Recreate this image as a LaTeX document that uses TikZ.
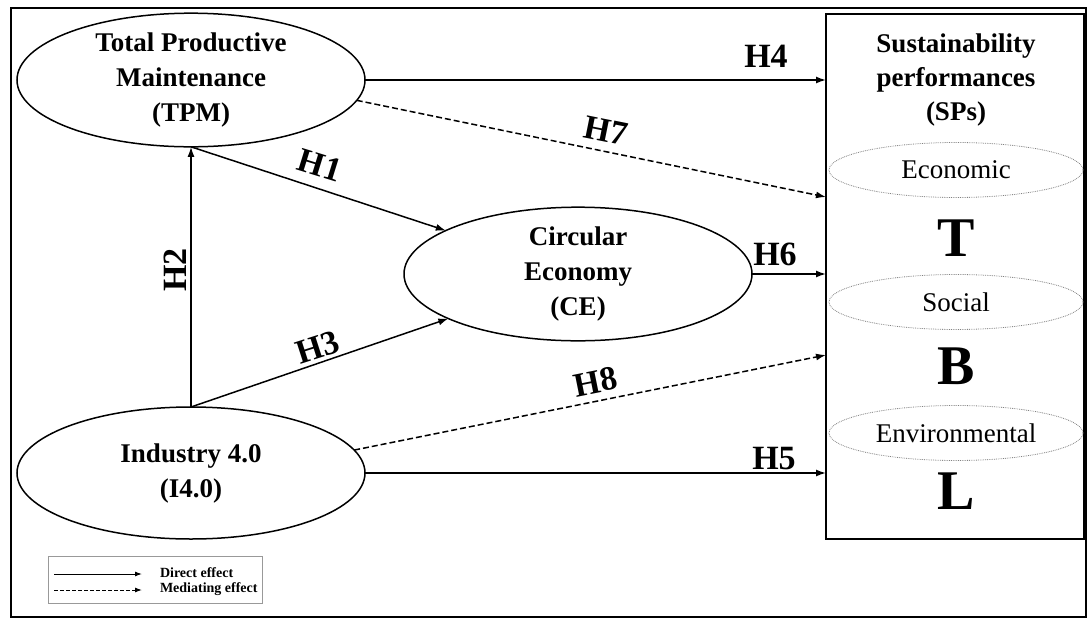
\documentclass[tikz,border=0pt]{standalone}
\usepackage{fontspec}
\setmainfont{Liberation Serif}
\usetikzlibrary{arrows.meta,shapes.geometric}
\begin{document}
\begin{tikzpicture}[x=1pt,y=-1pt,
  every node/.style={inner sep=0pt,outer sep=0pt},
  construct/.style={ellipse,draw,line width=1.5pt,minimum width=348pt,minimum height=132pt,
    align=center,font=\fontsize{27}{35}\selectfont\bfseries},
  dimension/.style={ellipse,draw=gray,densely dotted,line width=0.8pt,minimum width=254pt,
    minimum height=55pt,font=\fontsize{27}{32}\selectfont},
  bigletter/.style={font=\fontsize{56}{60}\selectfont\bfseries},
  hyp/.style={font=\fontsize{34}{36}\selectfont\bfseries},
  direct/.style={line width=1.5pt,-{Latex[length=10pt,width=7pt]}},
  mediate/.style={direct,dash pattern=on 6pt off 3pt},
  legdirect/.style={line width=1pt,-{Latex[length=7pt,width=5pt]}},
  legmediate/.style={legdirect,dash pattern=on 4pt off 2pt},
  legtext/.style={anchor=west,font=\fontsize{14}{14}\selectfont\bfseries}]
\useasboundingbox (0,0) rectangle (1088,619);
\draw[line width=2pt] (11,8) rectangle (1086,617);

% constructs
\node[construct] (tpm) at (191,80) {Total Productive\\Maintenance\\(TPM)};
\node[construct] (ce) at (578,274) {Circular\\Economy\\(CE)};
\node[construct] (i40) at (191,473) {Industry 4.0\\(I4.0)};

% sustainability box
\node[draw,line width=2pt,minimum width=258pt,minimum height=525pt] (sp) at (955,276.5) {};
\node[align=center,font=\fontsize{27}{34}\selectfont\bfseries] (sptitle) at (956,80) {Sustainability\\performances\\(SPs)};
\node[dimension] (eco) at (956,170) {Economic};
\node[bigletter] (t) at (956,238) {T};
\node[dimension] (soc) at (956,302) {Social};
\node[bigletter] (b) at (956,366) {B};
\node[dimension] (env) at (956,433) {Environmental};
\node[bigletter] (l) at (956,491) {L};

% free ends on the box
\coordinate (h7e) at (826,197);
\coordinate (h8e) at (826,355);

% connectors
\draw[direct] (i40.north) -- (tpm.south);
\draw[direct] (tpm.south) -- (ce);
\draw[direct] (i40.north) -- (ce);
\draw[direct] (tpm.east) -- (tpm.east -| sp.west);
\draw[direct] (ce.east) -- (ce.east -| sp.west);
\draw[direct] (i40.east) -- (i40.east -| sp.west);
\draw[mediate] (tpm.-7.6) -- (h7e);
\draw[mediate] (i40.8.1) -- (h8e);

% hypothesis labels
\node[hyp,rotate=-17.2] (lh1) at (320,165) {H1};
\node[hyp,rotate=90] (lh2) at (175,270) {H2};
\node[hyp,rotate=17.8] (lh3) at (318,347) {H3};
\node[hyp] (lh4) at (766,56) {H4};
\node[hyp] (lh5) at (774,459) {H5};
\node[hyp] (lh6) at (775,254) {H6};
\node[hyp,rotate=-11.4] (lh7) at (606,131) {H7};
\node[hyp,rotate=11.4] (lh8) at (596,382) {H8};

% legend
\node[draw=gray!80,line width=0.8pt,minimum width=214pt,minimum height=47pt] (leg) at (155,579.5) {};
\coordinate (ls1) at (54,574);
\coordinate (ls2) at (142,574);
\coordinate (ld1) at (54,590);
\coordinate (ld2) at (142,590);
\draw[legdirect] (ls1) -- (ls2);
\draw[legmediate] (ld1) -- (ld2);
\node[legtext] (ltd) at (160,573) {Direct effect};
\node[legtext] (ltm) at (160,589) {Mediating effect};
\end{tikzpicture}
\end{document}
